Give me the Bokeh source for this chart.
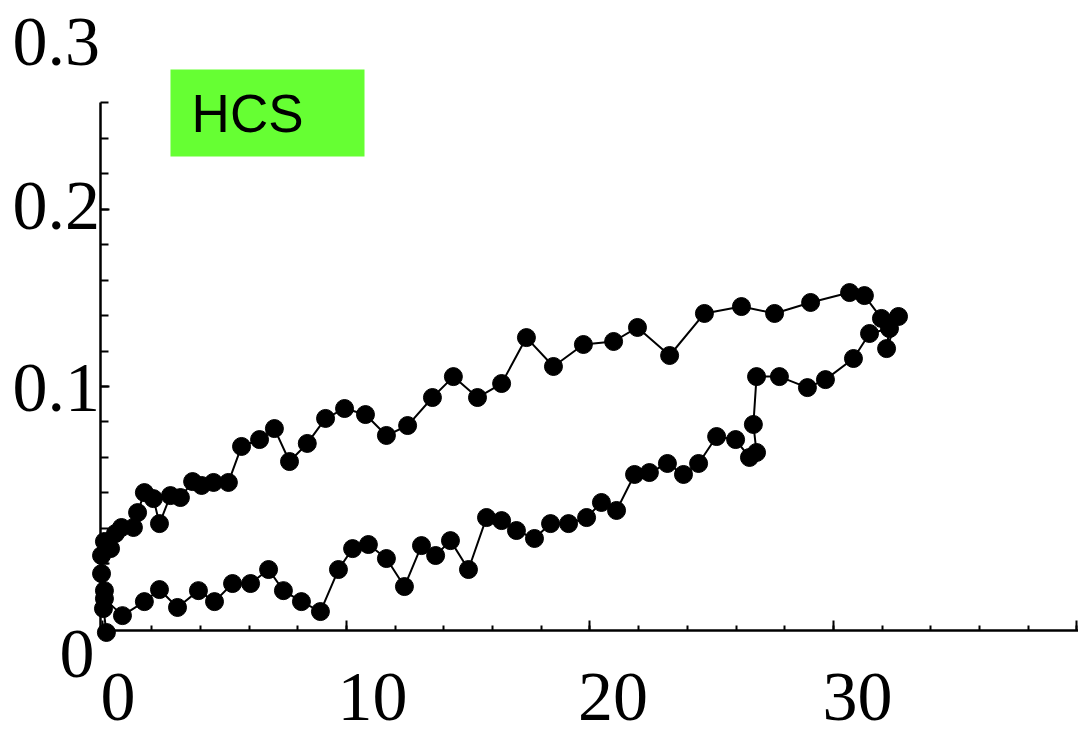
import numpy as np
from bokeh.plotting import figure
from bokeh.models import FixedTicker, Label, BoxAnnotation, ColumnDataSource
from bokeh.embed import file_html
from bokeh.resources import INLINE

# ---- data ----
x_vals = [0.14, 0.02, 0.06, -0.06, -0.06, 0.06, 0.31, 0.51, 0.76, 1.25,
          1.42, 1.70, 2.07, 2.32, 2.77, 3.18, 3.68, 4.05, 4.54, 5.15,
          5.69, 6.43, 7.04, 7.66, 8.39, 9.14, 9.92, 10.78, 11.64, 12.51,
          13.53, 14.39, 15.38, 16.37, 17.39, 18.50, 19.73, 20.97, 21.95, 23.27,
          24.70, 26.22, 27.58, 29.06, 30.66, 31.27, 31.97, 32.67, 32.18, 32.30,
          31.48, 30.82, 29.67, 28.93, 27.78, 26.84, 26.71, 26.84, 26.55, 25.98,
          25.20, 24.46, 23.84, 23.18, 22.44, 21.83, 21.09, 20.47, 19.86, 19.12,
          18.38, 17.72, 16.98, 16.37, 15.75, 15.01, 14.27, 13.66, 13.08, 12.38,
          11.64, 10.90, 10.25, 9.67, 8.93, 8.15, 7.41, 6.80, 6.06, 5.32,
          4.58, 3.92, 3.06, 2.32, 1.70, 0.80, 0.06]
y_vals = [-0.0387, -0.0252, -0.0151, -0.0055, 0.0047, 0.0126, 0.0086, 0.0171, 0.0205, 0.0205,
          0.0289, 0.0402, 0.0368, 0.0227, 0.0385, 0.0374, 0.0464, 0.0442, 0.0459, 0.0459,
          0.0662, 0.0701, 0.0763, 0.0577, 0.0679, 0.0820, 0.0876, 0.0842, 0.0724, 0.0780,
          0.0938, 0.1056, 0.0938, 0.1017, 0.1276, 0.1113, 0.1237, 0.1254, 0.1333, 0.1175,
          0.1412, 0.1451, 0.1412, 0.1474, 0.1530, 0.1513, 0.1384, 0.1395, 0.1214, 0.1327,
          0.1299, 0.1158, 0.1039, 0.0994, 0.1056, 0.1056, 0.0786, 0.0628, 0.0600, 0.0701,
          0.0718, 0.0566, 0.0504, 0.0566, 0.0515, 0.0504, 0.0301, 0.0346, 0.0261, 0.0227,
          0.0227, 0.0143, 0.0188, 0.0244, 0.0261, -0.0032, 0.0131, 0.0047, 0.0103, -0.0128,
          0.0030, 0.0109, 0.0086, -0.0032, -0.0269, -0.0213, -0.0151, -0.0032, -0.0111, -0.0111,
          -0.0213, -0.0151, -0.0246, -0.0145, -0.0213, -0.0292, -0.0196]

xtick_values = [0, 10, 20, 30]
xtick_labels = ["0", "10", "20", "30"]
ytick_values = [0, 0.1, 0.2, 0.3]
ytick_labels = ["0", "0.1", "0.2", "0.3"]
legend_text = "HCS"

# ---- layout / style ----
W, H = 1078, 735
X_RANGE = (-4.209, 40.062)
Y_RANGE = (-0.0968, 0.3177)
XAXIS_Y = -0.0376
YAXIS_X = -0.103
SERIF = "Liberation Serif"
TICK_FONT = "70px"

p = figure(width=W, height=H, x_range=X_RANGE, y_range=Y_RANGE,
           output_backend="svg", toolbar_location=None, min_border=0)
p.outline_line_color = None
p.grid.visible = False
p.background_fill_color = "white"

# x axis
xa = p.xaxis[0]
xa.fixed_location = XAXIS_Y
xa.bounds = (YAXIS_X, 40.2)
xa_major = [0, 10, 20, 30, 40]
xa.ticker = FixedTicker(ticks=xa_major,
                        minor_ticks=[float(v) for v in np.arange(0, 40.1, 2)])
xa.axis_line_width = 2.5
xa.axis_line_color = "black"
xa.major_tick_in = 10
xa.major_tick_out = 0
xa.minor_tick_in = 5
xa.minor_tick_out = 0
xa.major_tick_line_width = 2
xa.minor_tick_line_width = 2
xa.major_tick_line_color = "black"
xa.minor_tick_line_color = "black"
xa.major_label_overrides = {v: "" for v in xa_major}
xa.major_label_standoff = 0

# y axis
ya = p.yaxis[0]
ya.fixed_location = YAXIS_X
ya.bounds = (XAXIS_Y, 0.26)
ya_major = [0, 0.1, 0.2]
ya.ticker = FixedTicker(ticks=ya_major,
                        minor_ticks=[float(v) for v in np.arange(-0.02, 0.2601, 0.02)])
ya.axis_line_width = 2.5
ya.axis_line_color = "black"
ya.major_tick_in = 9
ya.major_tick_out = 0
ya.minor_tick_in = 8
ya.minor_tick_out = 0
ya.major_tick_line_width = 2
ya.minor_tick_line_width = 2
ya.major_tick_line_color = "black"
ya.minor_tick_line_color = "black"
ya.major_label_overrides = {v: "" for v in ya_major}
ya.major_label_standoff = 0

# tick labels (placed as in the reference, offset from their ticks)
x_label_dx = [15, 26, 23, 24]
for v, t, dx in zip(xtick_values, xtick_labels, x_label_dx):
    p.add_layout(Label(x=v, y=XAXIS_Y, x_offset=dx, y_offset=-66, text=t,
                       text_align="center", text_baseline="alphabetic",
                       text_font=SERIF, text_font_size=TICK_FONT, text_color="black"))

y_label_dx = [-6, -0.5, -0.5, -0.5]
y_label_dy = [-90, -1, 3, -10]
for v, t, dx, dy in zip(ytick_values, ytick_labels, y_label_dx, y_label_dy):
    p.add_layout(Label(x=YAXIS_X, y=v, x_offset=dx, y_offset=dy, text=t,
                       text_align="right", text_baseline="alphabetic",
                       text_font=SERIF, text_font_size=TICK_FONT, text_color="black"))

# legend-like green box
p.add_layout(BoxAnnotation(left=2.772, right=10.74, top=0.2788, bottom=0.2297,
                           fill_color="#66FF33", fill_alpha=1.0, line_color=None))
p.add_layout(Label(x=3.64, y=0.2429, y_offset=20, text=legend_text, text_align="left",
                   text_baseline="alphabetic", text_font="Liberation Sans",
                   text_font_size="53px", text_color="black"))

src = ColumnDataSource(data=dict(x=x_vals, y=y_vals))
p.line("x", "y", source=src, line_color="black", line_width=2)
p.scatter("x", "y", source=src, size=18, fill_color="black", line_color="black")

open("out.html", "w").write(file_html(p, INLINE))
